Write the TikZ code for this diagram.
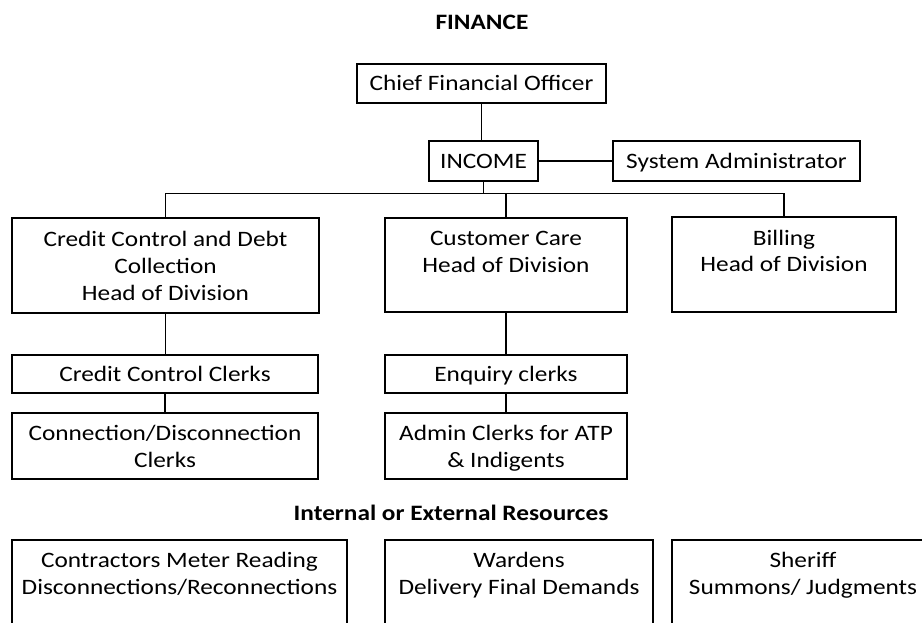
\documentclass[tikz,border=0pt]{standalone}
\usepackage{fontspec}
\setmainfont{Carlito}[FakeStretch=1.15]
% centred stack of lines whose baseline is that of the first line
\newcommand{\stackedlines}[1]{\begin{tabular}[t]{@{}c@{}}#1\end{tabular}}
\begin{document}
\begin{tikzpicture}[x=1pt,y=-1pt,
  every node/.style={inner sep=0pt, outer sep=0pt},
  box/.style={draw, line width=1.1pt, rectangle},
  txt/.style={font=\fontsize{22}{27}\selectfont, anchor=base},
  head/.style={font=\fontsize{22}{27}\selectfont\bfseries, anchor=base},
  link/.style={line width=1.2pt}]
\useasboundingbox (0,0) rectangle (922,623);
\clip (0,0) rectangle (922,623);

% headings
\node[head] (fin) at (482,30) {FINANCE};
\node[head] (res) at (451,520) {Internal or External Resources};

% top of the hierarchy
\node[box, minimum width=249pt, minimum height=39pt] (cfo) at (481.5,83.5) {};
\node[txt] (cfoT) at (481.5,90.7) {Chief Financial Officer};
\node[box, minimum width=109pt, minimum height=40pt] (inc) at (483.5,161) {};
\node[txt] (incT) at (483.5,168.3) {INCOME};
\node[box, minimum width=247pt, minimum height=40pt] (sys) at (736.5,161) {};
\node[txt] (sysT) at (736.5,168.3) {System Administrator};

% heads of division
\node[box, minimum width=307pt, minimum height=95pt] (cred) at (165.5,265.5) {};
\node[txt] (credT) at (165.5,246.7) {\stackedlines{Credit Control and Debt\\Collection\\Head of Division}};
\node[box, minimum width=242pt, minimum height=94pt] (care) at (506,265) {};
\node[txt] (careT) at (506,246) {\stackedlines{Customer Care\\Head of Division}};
\node[box, minimum width=224pt, minimum height=95pt] (bill) at (784,264.5) {};
\node[txt] (billT) at (784,245) {\stackedlines{Billing\\Head of Division}};

% clerks
\node[box, minimum width=306pt, minimum height=38pt] (ccl) at (165,374) {};
\node[txt] (cclT) at (165,381.7) {Credit Control Clerks};
\node[box, minimum width=242pt, minimum height=38pt] (enq) at (506,374) {};
\node[txt] (enqT) at (506,381.7) {Enquiry clerks};
\node[box, minimum width=306pt, minimum height=66pt] (conn) at (165,446) {};
\node[txt] (connT) at (165,440) {\stackedlines{Connection/Disconnection\\Clerks}};
\node[box, minimum width=242pt, minimum height=66pt] (adm) at (506,446) {};
\node[txt] (admT) at (506,440) {\stackedlines{Admin Clerks for ATP\\\& Indigents}};

% resources
\node[box, minimum width=335pt, minimum height=120pt] (contr) at (179.5,600) {};
\node[txt] (contrT) at (179.5,567) {\stackedlines{Contractors Meter Reading\\Disconnections/Reconnections}};
\node[box, minimum width=268pt, minimum height=120pt] (ward) at (519,600) {};
\node[txt] (wardT) at (519,567) {\stackedlines{Wardens\\Delivery Final Demands}};
\node[box, minimum width=262pt, minimum height=120pt] (sher) at (803,600) {};
\node[txt] (sherT) at (803,567) {\stackedlines{Sheriff\\Summons/ Judgments}};

% reporting lines
\coordinate (bus) at (0,193.5);
\draw[link] (cfo.south) -- (cfo.south |- inc.north);
\draw[line width=2pt] (inc.east) -- (sys.west);
\draw[link] (inc.south) -- (inc.south |- bus);
\draw[link] (cred.north) -- (cred.north |- bus) -- (bill.north |- bus) -- (bill.north);
\draw[link] (care.north) -- (care.north |- bus);
\draw[link] (cred.south) -- (cred.south |- ccl.north);
\draw[link] (ccl.south) -- (ccl.south |- conn.north);
\draw[link] (care.south) -- (care.south |- enq.north);
\draw[link] (enq.south) -- (enq.south |- adm.north);
\end{tikzpicture}
\end{document}
